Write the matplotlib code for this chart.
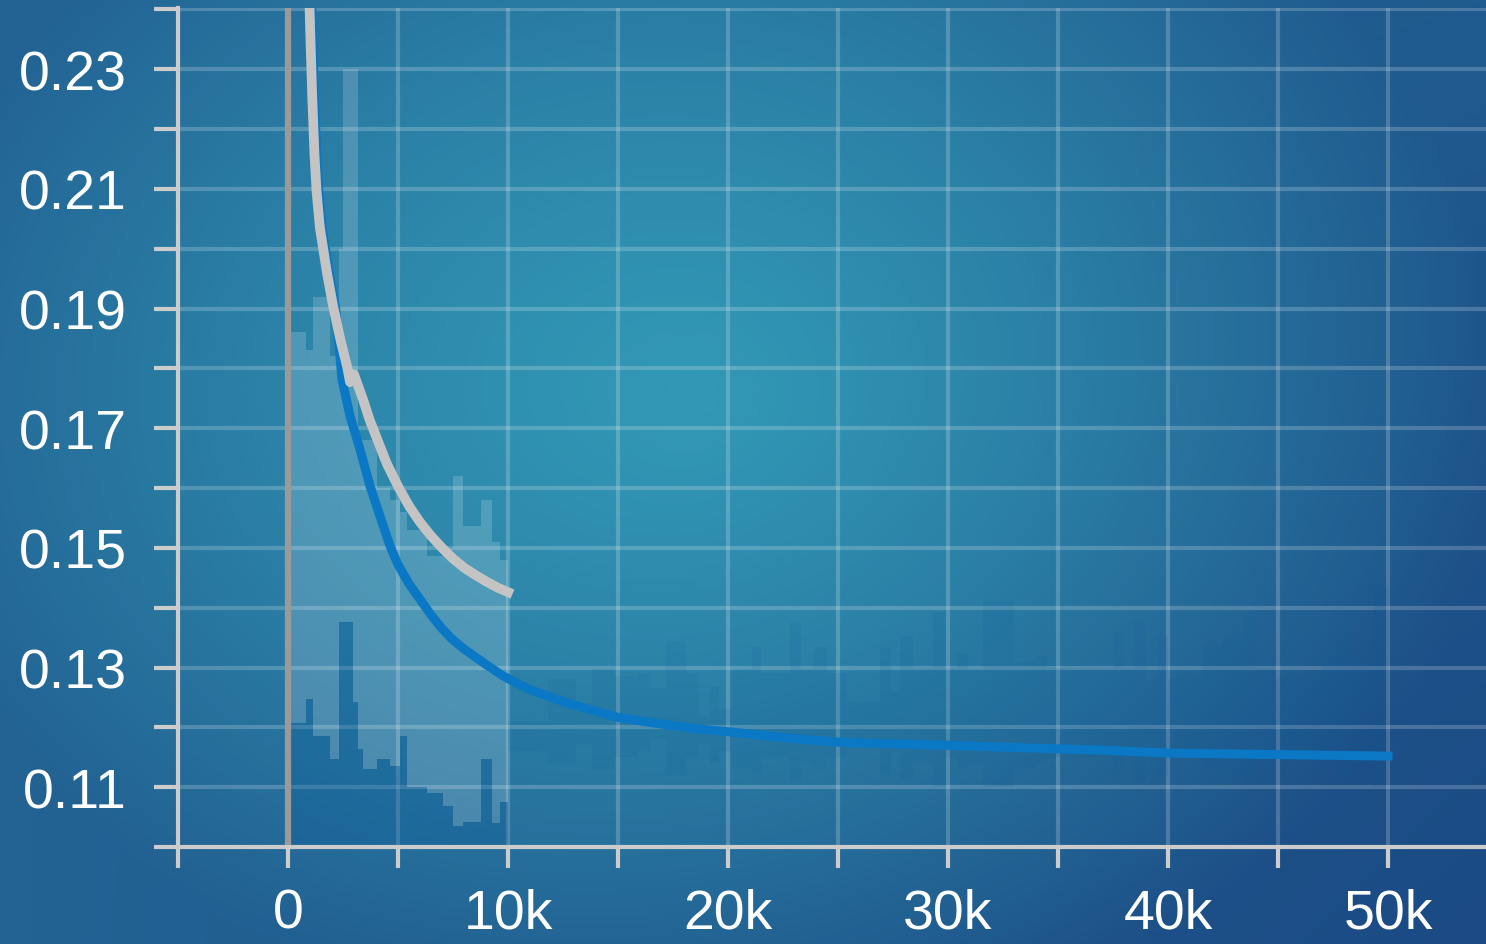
import numpy as np
import matplotlib
matplotlib.use("Agg")
import matplotlib.pyplot as plt
from matplotlib.ticker import FixedLocator, FuncFormatter

plt.rcParams['font.family'] = ['Liberation Sans', 'DejaVu Sans']

# smoothed curves (step, value)
gray_x = [900, 1000, 1100, 1200, 1300, 1450, 1770, 2050, 2400, 2680, 2820, 3000, 3410,
          3700, 4050, 4500, 5000, 5500, 6000, 6500, 7000, 7500, 8000, 8500, 9000, 9500,
          10000]
gray_y = [0.252, 0.2375, 0.2255, 0.216, 0.2095, 0.2035, 0.196, 0.1904, 0.1845, 0.1804,
          0.1777, 0.179, 0.1748, 0.1715, 0.1682, 0.164, 0.1603, 0.157, 0.1543, 0.152,
          0.150, 0.1482, 0.1467, 0.1455, 0.1444, 0.1434, 0.1426]

blue_x = [1000, 1100, 1200, 1300, 1400, 1550, 1870, 2150, 2270, 2450, 2820, 3270, 3730,
          4180, 4640, 5000, 5500, 6000, 6500, 7000, 7500, 8000, 8500, 9000, 9770, 10500,
          11000, 12500, 13500, 14950, 16500, 18700, 20200, 23000, 25100, 27800, 30100,
          32400, 36900, 40000, 46000, 50000]
blue_y = [0.252, 0.2375, 0.2255, 0.216, 0.2095, 0.2035, 0.196, 0.1904, 0.186, 0.1782,
          0.172, 0.1665, 0.1603, 0.1553, 0.1503, 0.1472, 0.144, 0.1414, 0.1388, 0.1365,
          0.1346, 0.1331, 0.1318, 0.1305, 0.1286, 0.1272, 0.1263, 0.1243, 0.1232, 0.1217,
          0.1208, 0.1197, 0.1192, 0.1181, 0.1175, 0.1172, 0.117, 0.1167, 0.1162, 0.1157,
          0.1154, 0.1152]

# raw (unsmoothed) ranges per bin
gray_raw_edges = [0, 800, 1150, 1900, 2300, 2500, 2950, 3200, 3400, 4050, 4650, 5100,
                  5400, 6300, 7050, 7500, 7950, 8750, 9250, 9650, 10000]
gray_raw_hi = [0.186, 0.183, 0.192, 0.182, 0.200, 0.230, 0.230, 0.168, 0.168, 0.160,
               0.158, 0.156, 0.153, 0.1486, 0.150, 0.162, 0.1536, 0.158, 0.151, 0.148]
gray_raw_lo = [0.1208, 0.1247, 0.1185, 0.1147, 0.1376, 0.1376, 0.1242, 0.1163, 0.113,
               0.1147, 0.1135, 0.1185, 0.1101, 0.1091, 0.1068, 0.1035, 0.1041, 0.1147,
               0.104, 0.1075]

blue_raw_edges = [0, 800, 1150, 1900, 2300, 2500, 2950, 3200, 3400, 4050, 4650, 5100,
                  5400, 6300, 7050, 7500, 7950, 8750, 9250, 9650, 10000,
                  11800, 13100, 13800, 14800, 15900, 16500, 17200, 18100, 18700, 19200,
                  19600, 20200, 21100, 21500, 22800, 23300, 23900, 24500, 25400, 26900,
                  27400, 27800, 28400, 29300, 29900, 30400, 30900, 31600, 33000, 34000,
                  34500, 37500, 38000, 38400, 39000, 39500, 40000, 41600, 42500, 43400,
                  44000, 44800, 47000, 47800, 48300, 49300, 50000]
blue_raw_hi = [0.1208, 0.1247, 0.1185, 0.1147, 0.1376, 0.1376, 0.1242, 0.1163, 0.113,
               0.1147, 0.1135, 0.1185, 0.1101, 0.1091, 0.1068, 0.1035, 0.1041, 0.1147,
               0.104, 0.1075,
               0.121, 0.128, 0.124, 0.1297, 0.1286, 0.129, 0.1266, 0.1344, 0.129, 0.122,
               0.1267, 0.123, 0.1297, 0.1334, 0.129, 0.1376, 0.1297, 0.1335, 0.129,
               0.1242, 0.1335, 0.126, 0.1352, 0.130, 0.1393, 0.130, 0.1322, 0.1297,
               0.1411, 0.1309, 0.132, 0.130, 0.1359, 0.130, 0.1376, 0.128, 0.1352, 0.128,
               0.1335, 0.1347, 0.1386, 0.130, 0.128, 0.1325, 0.1369, 0.131, 0.1436]
blue_raw_lo = [0.100] * 20 + [
               0.116, 0.114, 0.117, 0.113, 0.115, 0.116, 0.118, 0.112, 0.115, 0.117,
               0.114, 0.116, 0.113, 0.112, 0.115, 0.111, 0.114, 0.113, 0.115, 0.117,
               0.112, 0.116, 0.111, 0.114, 0.110, 0.115, 0.113, 0.114, 0.110, 0.113,
               0.114, 0.115, 0.112, 0.115, 0.111, 0.116, 0.112, 0.115, 0.113, 0.112,
               0.111, 0.114, 0.115, 0.113, 0.111, 0.114, 0.110]

W, H = 1486, 945
fig = plt.figure(figsize=(W / 100, H / 100), dpi=100)

# background gradient
yy, xx = np.mgrid[0:H, 0:W]
r = np.clip(np.hypot((xx - 700) / 800, (yy - 400) / 650), 0, 1) ** 1.3
t = 0.7 * r + 0.1 * xx / W + 0.2 * (xx / W) * (yy / H)
c_center = np.array([52, 159, 186]) / 255
c_edge = np.array([27, 74, 132]) / 255
img = c_center + t[..., None] * (c_edge - c_center)
bg = fig.add_axes([0, 0, 1, 1], zorder=-1)
bg.imshow(img, aspect='auto', interpolation='bilinear')
bg.axis('off')

ax = fig.add_axes([178 / W, 97 / H, 1 - 178 / W, 838.8 / H])
ax.set_facecolor('none')
ax.set_xlim(-5000, 54454)
ax.set_ylim(0.100, 0.2402)

# raw ranges
gx = np.array(gray_raw_edges)
ax.fill_between(gx, gray_raw_lo + [gray_raw_lo[-1]], gray_raw_hi + [gray_raw_hi[-1]],
                step='post', color='white', alpha=0.17, lw=0, zorder=2)
bx = np.array(blue_raw_edges)
blo = blue_raw_lo + [blue_raw_lo[-1]]
bhi = blue_raw_hi + [blue_raw_hi[-1]]
ax.fill_between(bx[:21], blo[:21], bhi[:21], step='post', color='#0a5a9a', alpha=0.28,
                lw=0, zorder=2)
ax.fill_between(bx[20:], blo[20:], bhi[20:], step='post', color='#0a5a9a', alpha=0.10,
                lw=0, zorder=2)

ax.axvline(0, color='#9a9a9a', lw=4.5, zorder=3)

ax.plot(blue_x, blue_y, color='#0a78c4', lw=6.5, solid_joinstyle='round', zorder=4)
ax.plot(gray_x, gray_y, color='#c4c4c4', lw=7, solid_joinstyle='round', zorder=5)

# ticks and grid
ax.xaxis.set_major_locator(FixedLocator([0, 10000, 20000, 30000, 40000, 50000]))
ax.xaxis.set_minor_locator(FixedLocator([-5000, 5000, 15000, 25000, 35000, 45000]))
ax.xaxis.set_major_formatter(FuncFormatter(lambda v, p: '0' if v == 0 else f'{int(v / 1000)}k'))
ax.yaxis.set_major_locator(FixedLocator([0.11, 0.13, 0.15, 0.17, 0.19, 0.21, 0.23]))
ax.yaxis.set_minor_locator(FixedLocator([0.10, 0.12, 0.14, 0.16, 0.18, 0.20, 0.22, 0.24]))
ax.yaxis.set_major_formatter(FuncFormatter(lambda v, p: f'{v:.2f}'))

ax.grid(True, which='both', color='white', alpha=0.2, lw=3, zorder=1)
ax.set_axisbelow(True)

ax.tick_params(axis='both', which='both', colors='#cccccc', width=3, labelcolor='white',
               labelsize=40)
ax.tick_params(axis='x', which='both', length=15, pad=14)
ax.tick_params(axis='y', which='both', length=17, pad=20)

for s in ['top', 'right']:
    ax.spines[s].set_visible(False)
for s in ['left', 'bottom']:
    ax.spines[s].set_color('#cccccc')
    ax.spines[s].set_linewidth(3)
    ax.spines[s].set_zorder(6)

fig.savefig('out.png', dpi=100)
